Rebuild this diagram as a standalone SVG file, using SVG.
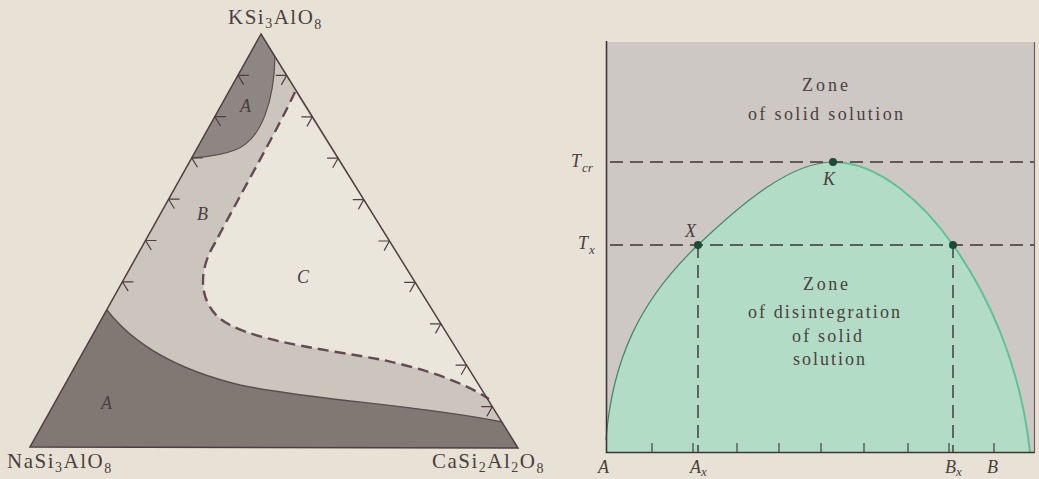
<svg xmlns="http://www.w3.org/2000/svg" xmlns:xlink="http://www.w3.org/1999/xlink" width="1039" height="479" viewBox="0 0 1039 479">
<style>
.lbl{font-family:"Liberation Serif","DejaVu Serif",serif;fill:#4a3f40}
.frm{font-size:21px;letter-spacing:1.5px}
.it{font-style:italic;font-size:18px}
.zone{font-size:18px}
.edge{fill:none;stroke:#4e3e40;stroke-width:1.5}
.tick{fill:none;stroke:#4e3e40;stroke-width:1.2}
.dash{fill:none;stroke:#644a52;stroke-width:2.4;stroke-dasharray:11 6}
.gdash{fill:none;stroke:#3e3434;stroke-width:1.4;stroke-dasharray:13 7}
.dot{fill:#1f4a3a}
</style>
<defs>
<path id="tl" d="M0 0 h11 M0 0 l5.8 9.35"/>
<path id="tr" d="M0 0 h-11 M0 0 l-5.4 9.6"/>
</defs>
<rect width="1039" height="479" fill="#e8e2d6"/>

<g id="ternary">
<polygon points="261,34 30,447 518,448" fill="#cbc5bd"/>
<path id="regionC" d="M295 92 C280 125 240 195 215 243 C195 275 200 310 230 325 C265 343 330 350 383 360 C420 368 460 380 489 399 Z" fill="#ebe6dc"/>
<path id="regionA-top" d="M261 34 L275 57 C274 100 262 140 235 150 C220 156 205 157 192 158 Z" fill="#8e8682"/>
<path id="regionA-bottom" d="M30 447 L107 310 C130 340 170 368 240 385 C310 400 420 405 502 422 L518 448 Z" fill="#817873"/>
<path d="M275 57 C274 100 262 140 235 150 C220 156 205 157 192 158" fill="none" stroke="#5a4e4e" stroke-width="1.2"/>
<path d="M107 310 C130 340 170 368 240 385 C310 400 420 405 502 422" fill="none" stroke="#5a4e4e" stroke-width="1.4"/>
<path class="dash" d="M295 92 C280 125 240 195 215 243 C195 275 200 310 230 325 C265 343 330 350 383 360 C420 368 460 380 489 399"/>
<polygon class="edge" points="261,34 30,447 518,448"/>
<g class="tick">
<use xlink:href="#tl" x="237.9" y="75.3"/>
<use xlink:href="#tl" x="214.8" y="116.6"/>
<use xlink:href="#tl" x="191.7" y="157.9"/>
<use xlink:href="#tl" x="168.6" y="199.2"/>
<use xlink:href="#tl" x="145.5" y="240.5"/>
<use xlink:href="#tl" x="122.4" y="281.8"/>
<use xlink:href="#tr" x="286.7" y="75.4"/>
<use xlink:href="#tr" x="312.4" y="116.8"/>
<use xlink:href="#tr" x="338.1" y="158.2"/>
<use xlink:href="#tr" x="363.8" y="199.6"/>
<use xlink:href="#tr" x="389.5" y="241"/>
<use xlink:href="#tr" x="415.2" y="282.4"/>
<use xlink:href="#tr" x="440.9" y="323.8"/>
<use xlink:href="#tr" x="466.6" y="365.2"/>
<use xlink:href="#tr" x="492.3" y="406.6"/>
</g>
<text class="lbl it" x="240" y="112" font-size="19">A</text>
<text class="lbl it" x="197" y="220" font-size="19">B</text>
<text class="lbl it" x="297" y="283" font-size="19">C</text>
<text class="lbl it" x="101" y="409" font-size="19" fill="#3a3232">A</text>
<text class="lbl frm" x="228" y="24">KSi<tspan font-size="14" dy="4">3</tspan><tspan dy="-4">AlO</tspan><tspan font-size="14" dy="5">8</tspan></text>
<text class="lbl frm" x="7" y="468">NaSi<tspan font-size="14" dy="4">3</tspan><tspan dy="-4">AlO</tspan><tspan font-size="14" dy="5">8</tspan></text>
<text class="lbl frm" x="432" y="468">CaSi<tspan font-size="14" dy="4">2</tspan><tspan dy="-4">Al</tspan><tspan font-size="14" dy="4">2</tspan><tspan dy="-4">O</tspan><tspan font-size="14" dy="5">8</tspan></text>
</g>

<g id="chart">
<rect x="606" y="42" width="429" height="410" fill="#cec8c4"/>
<path id="solvus-fill" d="M606 440 C612 360 640 300 698 245 C740 205 790 162 833 162 C880 162 925 205 953 245 C985 290 1020 360 1030 452 L606 452 Z" fill="#b2dcc6"/>
<path d="M606 440 C612 360 640 300 698 245 C740 205 790 162 833 162" fill="none" stroke="#3d8a68" stroke-width="1.2"/>
<path d="M833 162 C880 162 925 205 953 245 C985 290 1020 360 1030 452" fill="none" stroke="#5cc395" stroke-width="2"/>
<g id="connectors">
<line class="gdash" x1="610" y1="162" x2="1035" y2="162"/>
<line class="gdash" x1="610" y1="245" x2="1035" y2="245"/>
<line class="gdash" x1="698" y1="245" x2="698" y2="452"/>
<line class="gdash" x1="953" y1="245" x2="953" y2="452"/>
</g>
<path d="M606.5 41 V452.5 H1035" fill="none" stroke="#3e3434" stroke-width="1.6"/>
<line x1="1034.5" y1="42" x2="1034.5" y2="452" stroke="#6a5e5e" stroke-width="1.2"/>
<path class="tick" d="M652 443V452M693 443V452M737 443V452M779 443V452M821 443V452M864 443V452M908 443V452M949 443V452M994 443V452"/>
<circle class="dot" cx="833" cy="162" r="4"/>
<circle class="dot" cx="698" cy="245" r="4"/>
<circle class="dot" cx="953" cy="245" r="4"/>
<text class="lbl zone" x="802" y="91" textLength="46" lengthAdjust="spacing">Zone</text>
<text class="lbl zone" x="748" y="120" textLength="155" lengthAdjust="spacing">of solid solution</text>
<text class="lbl zone" x="803" y="290" textLength="45" lengthAdjust="spacing">Zone</text>
<text class="lbl zone" x="748" y="318" textLength="152" lengthAdjust="spacing">of disintegration</text>
<text class="lbl zone" x="792" y="342" textLength="70" lengthAdjust="spacing">of solid</text>
<text class="lbl zone" x="793" y="365" textLength="72" lengthAdjust="spacing">solution</text>
<text class="lbl it" x="571" y="167" font-size="20">T<tspan font-size="13" dx="1" dy="5">cr</tspan></text>
<text class="lbl it" x="578" y="249" font-size="20">T<tspan font-size="13" dx="1" dy="5">x</tspan></text>
<text class="lbl it" x="823" y="185" font-size="19">K</text>
<text class="lbl it" x="685" y="237" font-size="19">X</text>
<text class="lbl it" x="598" y="473" font-size="19">A</text>
<text class="lbl it" x="690" y="473" font-size="19">A<tspan font-size="13" dy="3">x</tspan></text>
<text class="lbl it" x="945" y="473" font-size="19">B<tspan font-size="13" dy="3">x</tspan></text>
<text class="lbl it" x="987" y="473" font-size="19">B</text>
</g>
</svg>
